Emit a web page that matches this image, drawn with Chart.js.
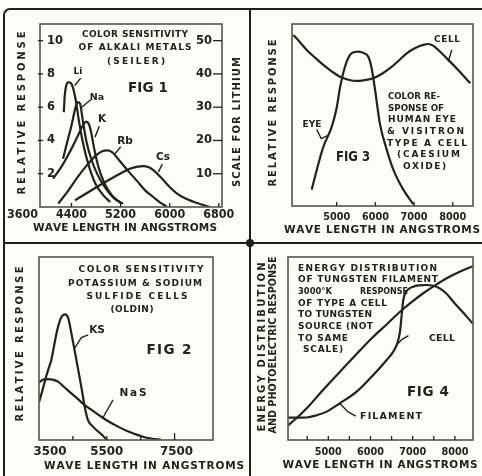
<!DOCTYPE html>
<html>
<head>
<meta charset="utf-8">
<script src="https://cdn.jsdelivr.net/npm/chart.js@4.4.1/dist/chart.umd.min.js"></script>
<style>
  html, body { margin: 0; background: #fcfcf9; }
  #wrap { position: relative; width: 482px; height: 476px; overflow: hidden; }
  canvas { position: absolute; left: 0; top: 0; }
  .rule { position: absolute; background: #1f1f18; }
</style>
</head>
<body>
<div id="wrap">
  <canvas id="fig1" width="482" height="476"></canvas>
  <canvas id="fig3" width="482" height="476"></canvas>
  <canvas id="fig2" width="482" height="476"></canvas>
  <canvas id="fig4" width="482" height="476"></canvas>
  <div style="position:absolute;left:3px;top:8px;width:600px;height:600px;border-left:2.5px solid #1f1f18;border-top:2.5px solid #1f1f18;border-top-left-radius:7px"></div>
  <div class="rule" style="left:248.5px;top:9px;width:2px;height:467px"></div>
  <div class="rule" style="left:3px;top:242px;width:479px;height:2px"></div>
  <div class="rule" style="left:245.5px;top:239px;width:8px;height:8px;border-radius:4px"></div>
</div>
<script>
const ink = '#23231c'
const boxInk = '#5e5e57'
const FONT = "'DejaVu Sans', sans-serif"

// fig 1 - alkali metals (Seiler), wave length in angstroms / relative response
const liWave = [4275, 4290, 4315, 4345, 4390, 4430, 4470, 4520, 4590, 4680, 4790, 4920, 5030]
const liResp = [5.7, 6.7, 7.3, 7.5, 7.45, 7.1, 6.4, 5.2, 3.8, 2.5, 1.4, 0.7, 0.3]
const naWave = [4262, 4330, 4400, 4460, 4500, 4540, 4580, 4640, 4720, 4830, 4960, 5100, 5240]
const naResp = [2.9, 3.9, 4.9, 5.9, 6.3, 6.2, 5.3, 4.0, 2.9, 1.9, 1.1, 0.5, 0.2]
const kWave = [4100, 4250, 4400, 4520, 4600, 4640, 4680, 4720, 4770, 4840, 4940, 5060, 5200]
const kResp = [1.7, 2.5, 3.5, 4.4, 5.0, 5.13, 5.0, 4.5, 3.5, 2.4, 1.4, 0.7, 0.25]
const rbWave = [4185, 4350, 4500, 4650, 4800, 4900, 4980, 5060, 5190, 5350, 5460, 5600, 5730, 5850, 5950]
const rbResp = [0.2, 1.0, 1.8, 2.5, 3.1, 3.35, 3.4, 3.3, 2.75, 2.05, 1.6, 1.0, 0.6, 0.25, 0.03]
const csWave = [4457, 4700, 4950, 5190, 5350, 5480, 5570, 5650, 5733, 5896, 6000, 6114, 6250, 6385, 6520, 6656]
const csResp = [0.4, 0.95, 1.5, 2.0, 2.3, 2.43, 2.46, 2.4, 2.22, 1.62, 1.2, 0.82, 0.52, 0.32, 0.15, 0.0]
const fig1XLabels = [3600, 4400, 5200, 6000, 6800]
const fig1YLabels = [2, 4, 6, 8, 10]
const fig1LithiumLabels = [10, 20, 30, 40, 50]

// fig 3 - human eye and visitron type A cell
const eyeWave = [4354, 4500, 4654, 4871, 5000, 5085, 5214, 5344, 5450, 5558, 5700, 5817, 5900, 5990, 6119, 6292, 6463, 6721, 6980]
const eyeResp = [9, 21, 32.5, 43.5, 54, 65, 76.5, 83, 84.6, 84.8, 84, 82, 76, 64, 45, 31, 20, 9, 1]
const cellWave = [3880, 4050, 4225, 4450, 4654, 4870, 5085, 5300, 5517, 5730, 5946, 6160, 6377, 6600, 6809, 7030, 7238, 7367, 7500, 7660, 7842, 8150, 8450]
const cellResp = [94, 90, 85.7, 81.3, 77.5, 74, 71, 69.4, 68.7, 69.2, 70.2, 72.5, 75.7, 79.8, 83.9, 86.8, 88.5, 89, 88, 85, 81.2, 74.5, 67.4]
const fig3XLabels = [5000, 6000, 7000, 8000]

// fig 2 - potassium and sodium sulfide cells (Oldin)
const ksWave = [3500, 3600, 3700, 3800, 3863, 3950, 4050, 4170, 4267, 4364, 4465, 4540, 4612, 4680, 4748, 4848, 4945, 5093, 5200, 5338, 5485]
const ksResp = [20.5, 27, 34, 40, 43.7, 52, 61, 67.5, 68.7, 66.5, 57.4, 50, 42.8, 36, 29.1, 18.2, 10.9, 7.3, 5.3, 3.2, 0.3]
const nasWave = [3500, 3620, 3765, 3900, 4060, 4250, 4453, 4650, 4848, 5100, 5338, 5580, 5830, 6080, 6323, 6560, 6813, 7100]
const nasResp = [31.5, 33, 33.3, 33, 31.9, 28.8, 25.5, 22.3, 19.1, 15.8, 12.7, 9.8, 7.3, 5.1, 3.3, 1.8, 0.8, 0.1]
const fig2XLabels = [3500, 5500, 7500]
const fig2XMarks = [4500, 5500, 6500, 7500]

// fig 4 - tungsten filament 3000 K and type A cell
const filWave = [4038, 4250, 4488, 4880, 5277, 5670, 6066, 6400, 6699, 6980, 7251, 7530, 7806, 8100, 8429]
const filResp = [7.8, 12, 17.3, 27.5, 37.3, 47, 56.4, 63.5, 70.1, 75.5, 80.2, 84.5, 88.4, 91.8, 95]
const cell4Wave = [4038, 4250, 4488, 4720, 4962, 5277, 5673, 6066, 6384, 6540, 6635, 6699, 6739, 6777, 6858, 7014, 7150, 7332, 7569, 7780, 7962, 8200, 8429]
const cell4Resp = [12.2, 12.2, 12.3, 13.5, 15.5, 20.1, 26.4, 35.5, 43.7, 48.3, 52.8, 59.2, 68.3, 76.5, 81.4, 83.8, 84.5, 84.7, 83.8, 80.5, 75.6, 69.5, 63.5]
const fig4XLabels = [5000, 6000, 7000, 8000]
const fig4XMarks = [4500, 5000, 5500, 6000, 6500, 7000, 7500, 8000]

function pts(xs, ys) {
  return xs.map((x, i) => ({ x, y: ys[i] }))
}

function curve(xs, ys) {
  return {
    data: pts(xs, ys),
    borderColor: ink,
    borderWidth: 2.2,
    pointRadius: 0,
    fill: false,
    cubicInterpolationMode: 'monotone',
  }
}

// draws text letter by letter so it can be spread (or squeezed) to a given width
function spaced(ctx, text, x, y, opt) {
  ctx.save()
  ctx.font = (opt.light ? '' : 'bold ') + opt.size + 'px ' + FONT
  ctx.fillStyle = ink
  ctx.textBaseline = 'middle'
  ctx.textAlign = 'left'
  const chars = [...text]
  const widths = chars.map((c) => ctx.measureText(c).width)
  const natural = widths.reduce((a, b) => a + b, 0)
  const total = opt.w || natural
  let gap = opt.w && chars.length > 1 ? (opt.w - natural) / (chars.length - 1) : 0
  let squeeze = 1
  if (gap < 0) {
    squeeze = opt.w / natural
    gap = 0
  }
  ctx.translate(x, y)
  if (opt.rot) ctx.rotate(-Math.PI / 2)
  let cx = opt.align === 'left' ? 0 : opt.align === 'right' ? -total : -total / 2
  ctx.translate(cx, 0)
  ctx.scale(squeeze, 1)
  let px = 0
  chars.forEach((c, i) => {
    ctx.fillText(c, px, 0)
    px += widths[i] + gap
  })
  ctx.restore()
}

function deco(cfg) {
  return {
    id: 'deco',
    afterDatasetsDraw(chart) {
      const { ctx, chartArea: a, scales } = chart
      const sx = scales.x
      const sy = scales.y
      ctx.save()
      ctx.strokeStyle = boxInk
      ctx.lineWidth = 1.7
      ctx.strokeRect(a.left, a.top, a.right - a.left, a.bottom - a.top)

      ctx.strokeStyle = ink
      ctx.lineWidth = 1.3
      ;(cfg.xMarks || cfg.xLabels).forEach((v) => {
        const p = sx.getPixelForValue(v)
        if (p <= a.left + 1 || p >= a.right - 1) return
        ctx.beginPath()
        ctx.moveTo(p, a.bottom)
        ctx.lineTo(p, a.bottom - (v === cfg.tallMark ? 7 : 4))
        ctx.stroke()
      })
      cfg.xLabels.forEach((v, i) => {
        const p = sx.getPixelForValue(v) + ((cfg.nudge && cfg.nudge[i]) || 0)
        spaced(ctx, String(v), p, cfg.labelY, { size: cfg.labelSize, w: cfg.labelW })
      })

      if (cfg.yLeft) {
        cfg.yLeft.forEach((v) => {
          const p = sy.getPixelForValue(v)
          ctx.beginPath()
          ctx.moveTo(a.left - 2, p)
          ctx.lineTo(a.left + 3, p)
          ctx.stroke()
          spaced(ctx, String(v), a.left + 7, p, { size: 11.5, align: 'left' })
        })
      }
      if (cfg.yRight) {
        const s2 = scales.y2
        cfg.yRight.forEach((v) => {
          const p = s2.getPixelForValue(v)
          ctx.beginPath()
          ctx.moveTo(a.right - 9, p)
          ctx.lineTo(a.right, p)
          ctx.stroke()
          spaced(ctx, String(v), a.right - 10, p, { size: 11.5, align: 'right' })
        })
      }

      ctx.lineWidth = 1.4
      cfg.leaders.forEach((l) => {
        ctx.beginPath()
        l.forEach(([x, y], i) => {
          const px = sx.getPixelForValue(x)
          const py = sy.getPixelForValue(y)
          if (i) ctx.lineTo(px, py)
          else ctx.moveTo(px, py)
        })
        ctx.stroke()
      })

      cfg.texts.forEach((t) => spaced(ctx, t.t, t.x, t.y, t))
      ctx.restore()
    },
  }
}

function panel(id, box, xMin, xMax, yMax, datasets, cfg, y2Max) {
  const scales = {
    x: { type: 'linear', min: xMin, max: xMax, display: false },
    y: { type: 'linear', min: 0, max: yMax, display: false },
  }
  if (y2Max) scales.y2 = { type: 'linear', min: 0, max: y2Max, display: false }
  new Chart(document.getElementById(id), {
    type: 'line',
    data: { datasets },
    options: {
      responsive: false,
      maintainAspectRatio: false,
      animation: false,
      devicePixelRatio: 1,
      layout: {
        padding: { left: box.l, top: box.t, right: 482 - box.r, bottom: 476 - box.b },
      },
      plugins: { legend: { display: false }, tooltip: { enabled: false } },
      scales,
    },
    plugins: [deco(cfg)],
  })
}

panel('fig1', { l: 40, t: 24, r: 222, b: 207 }, 3887, 6852, 11,
  [curve(liWave, liResp), curve(naWave, naResp), curve(kWave, kResp), curve(rbWave, rbResp), curve(csWave, csResp)],
  {
    xLabels: fig1XLabels, labelY: 215, labelSize: 12, labelW: 31,
    yLeft: fig1YLabels, yRight: fig1LithiumLabels,
    leaders: [
      [[4452, 7.3], [4550, 7.75]],
      [[4566, 6.0], [4713, 6.45]],
      [[4783, 4.2], [4853, 4.85]],
      [[5109, 3.2], [5202, 3.62]],
      [[5814, 2.1], [5880, 2.58]],
    ],
    texts: [
      { t: 'COLOR SENSITIVITY', x: 135, y: 35, size: 9, w: 106 },
      { t: 'OF ALKALI METALS', x: 135, y: 48, size: 9, w: 113 },
      { t: '(SEILER)', x: 136, y: 62, size: 9, w: 58 },
      { t: 'FIG 1', x: 148, y: 88, size: 13.5, w: 40 },
      { t: 'Li', x: 78, y: 72, size: 9 },
      { t: 'Na', x: 97, y: 98, size: 9.5 },
      { t: 'K', x: 102, y: 119, size: 10.5 },
      { t: 'Rb', x: 125, y: 141, size: 10.5 },
      { t: 'Cs', x: 163, y: 157, size: 10.5 },
      { t: 'RELATIVE RESPONSE', x: 22, y: 113, size: 10, w: 163, rot: true },
      { t: 'SCALE FOR LITHIUM', x: 237, y: 122, size: 10, w: 130, rot: true },
      { t: 'WAVE LENGTH IN ANGSTROMS', x: 125, y: 228, size: 10.5, w: 184 },
    ],
  }, 55)

panel('fig3', { l: 292, t: 24, r: 473, b: 206 }, 3845, 8522, 100,
  [curve(cellWave, cellResp), curve(eyeWave, eyeResp)],
  {
    xLabels: fig3XLabels, labelY: 217, labelSize: 11, labelW: 27,
    leaders: [
      [[7884, 79.3], [7972, 85.7]],
      [[4483, 42], [4600, 37], [4790, 39]],
    ],
    texts: [
      { t: 'CELL', x: 447, y: 40, size: 9, w: 26 },
      { t: 'EYE', x: 312, y: 125, size: 9, w: 19 },
      { t: 'COLOR RE-', x: 388, y: 97, size: 9, w: 52, align: 'left' },
      { t: 'SPONSE OF', x: 388, y: 108.5, size: 9, w: 56, align: 'left' },
      { t: 'HUMAN EYE', x: 388, y: 120, size: 9, w: 68, align: 'left' },
      { t: '& VISITRON', x: 387, y: 131.7, size: 9, w: 77, align: 'left' },
      { t: 'TYPE A CELL', x: 387, y: 143.3, size: 9, w: 80, align: 'left' },
      { t: '(CAESIUM', x: 397, y: 155, size: 9, w: 63, align: 'left' },
      { t: 'OXIDE)', x: 403, y: 166.7, size: 9, w: 43, align: 'left' },
      { t: 'FIG 3', x: 353, y: 157, size: 13.5, w: 34 },
      { t: 'RELATIVE RESPONSE', x: 273, y: 113, size: 10, w: 147, rot: true },
      { t: 'WAVE LENGTH IN ANGSTROMS', x: 382, y: 230, size: 10.5, w: 196 },
    ],
  })

panel('fig2', { l: 39, t: 257, r: 213, b: 440 }, 3500, 8633, 100,
  [curve(ksWave, ksResp), curve(nasWave, nasResp)],
  {
    xLabels: fig2XLabels, xMarks: fig2XMarks, tallMark: 7500, labelY: 452, labelSize: 12, labelW: 33,
    nudge: [11, 0, 2],
    leaders: [
      [[4545, 50], [4750, 56], [4950, 57.5]],
      [[5388, 12.3], [5683, 21.9]],
    ],
    texts: [
      { t: 'COLOR SENSITIVITY', x: 141, y: 270, size: 9, w: 125 },
      { t: 'POTASSIUM & SODIUM', x: 135, y: 283.3, size: 9, w: 134 },
      { t: 'SULFIDE CELLS', x: 137, y: 296.7, size: 9, w: 101 },
      { t: '(OLDIN)', x: 132, y: 310, size: 9, w: 43 },
      { t: 'FIG 2', x: 169, y: 350, size: 13.5, w: 45 },
      { t: 'KS', x: 97, y: 330, size: 10.5 },
      { t: 'NaS', x: 133, y: 393, size: 10.5, w: 27 },
      { t: 'RELATIVE RESPONSE', x: 20, y: 344, size: 10, w: 155, rot: true },
      { t: 'WAVE LENGTH IN ANGSTROMS', x: 144, y: 466, size: 10.5, w: 200 },
    ],
  })

panel('fig4', { l: 288, t: 257, r: 473, b: 440 }, 4045, 8429, 100,
  [curve(filWave, filResp), curve(cell4Wave, cell4Resp)],
  {
    xLabels: fig4XLabels, xMarks: fig4XMarks, labelY: 452, labelSize: 11, labelW: 27,
    leaders: [
      [[6620, 52], [6750, 55], [6900, 57]],
      [[5277, 20], [5460, 15.5], [5650, 13]],
    ],
    texts: [
      { t: 'ENERGY DISTRIBUTION', x: 298, y: 268.3, size: 9, w: 139, align: 'left' },
      { t: 'OF TUNGSTEN FILAMENT', x: 298, y: 280, size: 9, w: 140, align: 'left' },
      { t: '3000°K', x: 298, y: 291.7, size: 9, w: 34, align: 'left' },
      { t: 'RESPONSE', x: 360, y: 291.7, size: 9, w: 48, align: 'left' },
      { t: 'OF TYPE A CELL', x: 298, y: 303.3, size: 9, w: 89, align: 'left' },
      { t: 'TO TUNGSTEN', x: 298, y: 315, size: 9, w: 74, align: 'left' },
      { t: 'SOURCE (NOT', x: 298, y: 326.7, size: 9, w: 75, align: 'left' },
      { t: 'TO SAME', x: 298, y: 338.3, size: 9, w: 50, align: 'left' },
      { t: 'SCALE)', x: 303, y: 350, size: 9, w: 40, align: 'left' },
      { t: 'CELL', x: 442, y: 338.3, size: 9.5, w: 26 },
      { t: 'FIG 4', x: 428, y: 392, size: 13.5, w: 42 },
      { t: 'FILAMENT', x: 391, y: 416.5, size: 9.5, w: 62 },
      { t: 'ENERGY DISTRIBUTION', x: 262, y: 347, size: 10, w: 169, rot: true },
      { t: 'AND PHOTOELECTRIC RESPONSE', x: 273.5, y: 345, size: 10, w: 177, rot: true },
      { t: 'WAVE LENGTH IN ANGSTROMS', x: 380, y: 465, size: 10.5, w: 195 },
    ],
  })
</script>
</body>
</html>
